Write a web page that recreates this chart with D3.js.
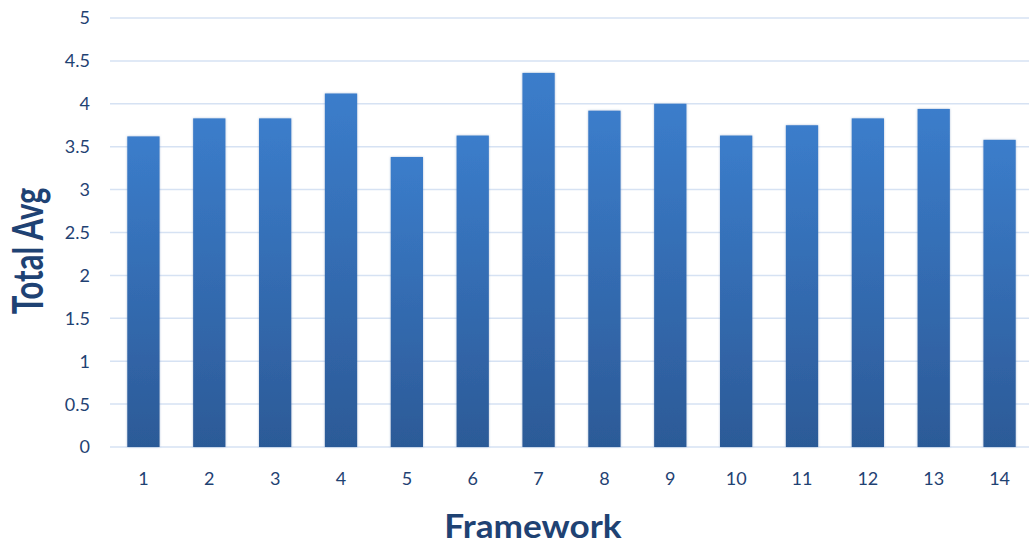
<!DOCTYPE html>
<html>
<head>
<meta charset="utf-8">
<script src="https://cdn.jsdelivr.net/npm/d3@7"></script>
<style>
  body { margin: 0; background: #fff; }
  text { font-family: Lato, "Open Sans", sans-serif; }
</style>
</head>
<body>
<div id="chart"></div>
<script>
var frameworks = ["1","2","3","4","5","6","7","8","9","10","11","12","13","14"];
var totalAvg = [3.62, 3.83, 3.83, 4.12, 3.38, 3.63, 4.36, 3.92, 4.0, 3.63, 3.75, 3.83, 3.94, 3.58];
var yTicks = [0, 0.5, 1, 1.5, 2, 2.5, 3, 3.5, 4, 4.5, 5];

var width = 1029, height = 545;
var textColor = "#1f4273";

var svg = d3.select("#chart").append("svg")
    .attr("width", width)
    .attr("height", height);

var defs = svg.append("defs");
var grad = defs.append("linearGradient")
    .attr("id", "barGrad")
    .attr("x1", 0).attr("y1", 0).attr("x2", 0).attr("y2", 1);
grad.append("stop").attr("offset", "0%").attr("stop-color", "#3b7dcb");
grad.append("stop").attr("offset", "100%").attr("stop-color", "#2c5a97");

var shadow = defs.append("filter").attr("id", "shadow")
    .attr("x", "-20%").attr("y", "-5%").attr("width", "140%").attr("height", "110%");
shadow.append("feDropShadow")
    .attr("dx", 0).attr("dy", 0).attr("stdDeviation", 1.2)
    .attr("flood-color", "#5a7fb0").attr("flood-opacity", 0.5);

var x = d3.scaleBand().domain(frameworks).range([110.5, 1032.5]).paddingInner(0.51).paddingOuter(0.255);
var y = d3.scaleLinear().domain([0, 5]).range([447, 18]);

// gridlines
svg.append("g")
    .selectAll("line")
    .data(yTicks)
    .enter().append("line")
    .attr("x1", 110)
    .attr("x2", width)
    .attr("y1", function(d) { return y(d); })
    .attr("y2", function(d) { return y(d); })
    .attr("stroke", "#d6e2f3")
    .attr("stroke-width", 1.5);

// y tick labels
svg.append("g")
    .selectAll("text")
    .data(yTicks)
    .enter().append("text")
    .attr("x", 90)
    .attr("y", function(d) { return y(d); })
    .attr("dy", "0.36em")
    .attr("text-anchor", "end")
    .attr("font-size", "18px")
    .attr("fill", textColor)
    .text(function(d) { return d; });

// bars
svg.append("g")
    .selectAll("rect")
    .data(totalAvg)
    .enter().append("rect")
    .attr("x", function(d, i) { return x(frameworks[i]); })
    .attr("y", function(d) { return y(d); })
    .attr("width", x.bandwidth())
    .attr("height", function(d) { return y(0) - y(d); })
    .attr("fill", "url(#barGrad)")
    .attr("filter", "url(#shadow)");

// x tick labels
svg.append("g")
    .selectAll("text")
    .data(frameworks)
    .enter().append("text")
    .attr("x", function(d) { return x(d) + x.bandwidth() / 2; })
    .attr("y", 485)
    .attr("text-anchor", "middle")
    .attr("font-size", "18px")
    .attr("fill", textColor)
    .text(function(d) { return d; });

// axis titles
svg.append("text")
    .attr("transform", "translate(533,538) scale(1.1,1)")
    .attr("text-anchor", "middle")
    .attr("font-size", "32px")
    .attr("font-weight", "bold")
    .attr("fill", textColor)
    .text("Framework");

svg.append("text")
    .attr("transform", "translate(43,251) rotate(-90) scale(0.74,1)")
    .attr("text-anchor", "middle")
    .attr("font-size", "42px")
    .attr("font-weight", "bold")
    .attr("fill", textColor)
    .text("Total Avg");
</script>
</body>
</html>
